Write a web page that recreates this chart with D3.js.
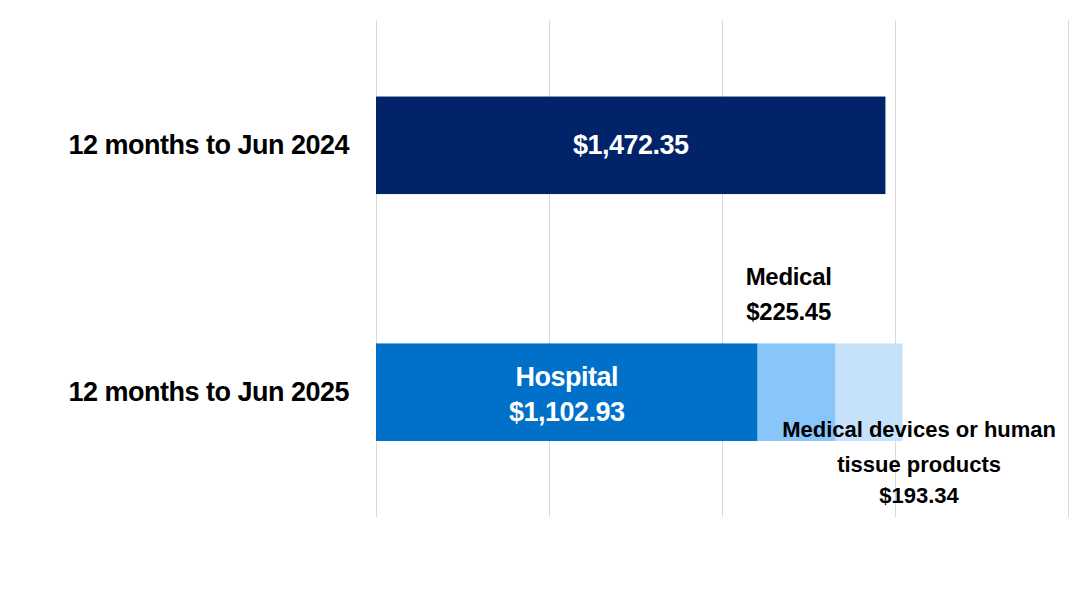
<!DOCTYPE html>
<html lang="en">
<head>
<meta charset="utf-8">
<title>Spending by category</title>
<script src="https://d3js.org/d3.v7.min.js"></script>
<style>
  body { margin: 0; background: #fff; }
  text { font-family: "Liberation Sans Narrow", "Arial Narrow", "Liberation Sans", Arial, sans-serif; font-weight: bold; }
  .grid line { stroke: #d9d9d9; stroke-width: 1; }
  .grid path { display: none; }
</style>
</head>
<body>
<script>
// data
var periods = ["12 months to Jun 2024", "12 months to Jun 2025"];
var segments = ["Total", "Hospital", "Medical", "Medical devices or human tissue products"];
var values2024 = [1472.35, 0, 0, 0];
var values2025 = [0, 1102.93, 225.45, 193.34];
var gridTicks = [0, 500, 1000, 1500, 2000];

var w = 1079, h = 613;
var colors = ["#00236a", "#0070c9", "#88c5fb", "#c6e2fb"];

var svg = d3.select("body").append("svg")
  .attr("width", w)
  .attr("height", h);

var xScale = d3.scaleLinear()
  .domain([0, 2000])
  .range([376, 1068]);

var yScale = d3.scaleBand()
  .domain(periods)
  .range([20, 517.5])
  .paddingInner(0.605)
  .paddingOuter(0.31);

// gridlines
svg.append("g")
  .attr("class", "grid")
  .attr("transform", "translate(0,517)")
  .call(d3.axisBottom(xScale).tickValues(gridTicks).tickSize(-497).tickFormat(""));

// stack rows
var rows = [values2024, values2025].map(function(vals, i) {
  var x0 = 0;
  return vals.map(function(v, j) {
    var seg = { period: periods[i], key: segments[j], value: v, x0: x0, x1: x0 + v, color: colors[j] };
    x0 += v;
    return seg;
  }).filter(function(s) { return s.value > 0; });
});
var allSegs = rows[0].concat(rows[1]);

svg.selectAll("rect.bar")
  .data(allSegs)
  .enter()
  .append("rect")
  .attr("class", "bar")
  .attr("x", function(d) { return xScale(d.x0); })
  .attr("y", function(d) { return yScale(d.period); })
  .attr("width", function(d) { return xScale(d.x1) - xScale(d.x0); })
  .attr("height", yScale.bandwidth())
  .attr("fill", function(d) { return d.color; });

// category labels
svg.selectAll("text.cat")
  .data(periods)
  .enter()
  .append("text")
  .attr("class", "cat")
  .attr("x", 349)
  .attr("y", function(d) { return yScale(d) + yScale.bandwidth() / 2 + 9; })
  .attr("text-anchor", "end")
  .attr("font-size", 27)
  .attr("letter-spacing", -0.5)
  .attr("fill", "#000")
  .text(function(d) { return d; });

var fmt = d3.format(",.2f");
function money(v) { return "$" + fmt(v); }
function mid(d) { return (xScale(d.x0) + xScale(d.x1)) / 2; }
function cy(d) { return yScale(d.period) + yScale.bandwidth() / 2; }

// value labels
var total = rows[0][0];
svg.append("text")
  .attr("x", mid(total))
  .attr("y", cy(total) + 9)
  .attr("text-anchor", "middle")
  .attr("font-size", 27)
  .attr("letter-spacing", -0.5)
  .attr("fill", "#fff")
  .text(money(total.value));

var hosp = rows[1][0];
var th = svg.append("text")
  .attr("text-anchor", "middle")
  .attr("font-size", 27)
  .attr("letter-spacing", -0.5)
  .attr("fill", "#fff");
th.append("tspan").attr("x", mid(hosp)).attr("y", cy(hosp) - 6).text(hosp.key);
th.append("tspan").attr("x", mid(hosp)).attr("y", cy(hosp) + 29).text(money(hosp.value));

var med = rows[1][1];
var tm = svg.append("text")
  .attr("text-anchor", "middle")
  .attr("font-size", 24)
  .attr("letter-spacing", -0.3)
  .attr("fill", "#000");
tm.append("tspan").attr("x", mid(med) - 8).attr("y", yScale(med.period) - 58).text(med.key);
tm.append("tspan").attr("x", mid(med) - 8).attr("y", yScale(med.period) - 23).text(money(med.value));

var dev = rows[1][2];
var td = svg.append("text")
  .attr("text-anchor", "middle")
  .attr("font-size", 22)
  .attr("fill", "#000");
td.append("tspan").attr("x", mid(dev) + 50).attr("y", yScale(dev.period) + 94).text("Medical devices or human");
td.append("tspan").attr("x", mid(dev) + 50).attr("y", yScale(dev.period) + 129).text("tissue products");
td.append("tspan").attr("x", mid(dev) + 50).attr("y", yScale(dev.period) + 160).text(money(dev.value));
</script>
</body>
</html>
